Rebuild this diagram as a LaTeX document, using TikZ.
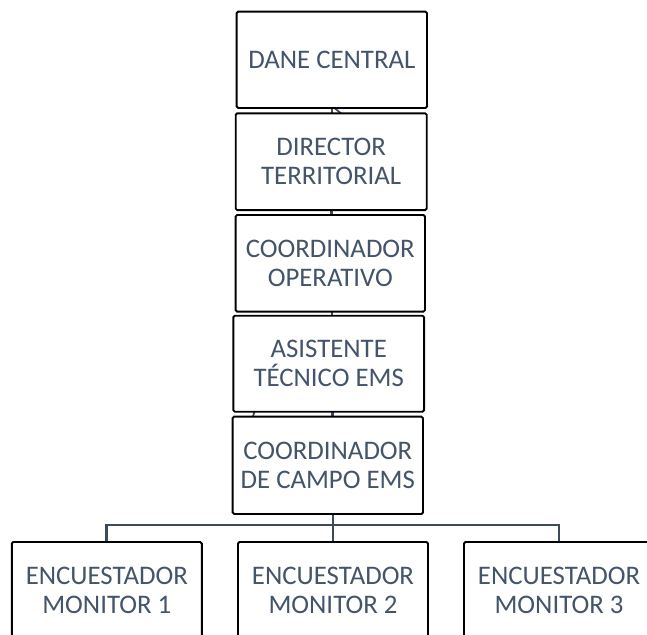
\documentclass[tikz,border=0pt]{standalone}
\usepackage{fontspec}
\setmainfont{Carlito}
\definecolor{txtc}{HTML}{44546A}
\definecolor{linec}{HTML}{3B4A5E}
\tikzset{
  box/.style={draw=black, line width=1.9pt, rounded corners=1.5pt, fill=white,
    minimum width=190pt, minimum height=96pt, inner sep=0pt,
    text=txtc, align=center, font=\fontsize{26.8pt}{29pt}\selectfont},
  conn/.style={draw=linec, line width=2.8pt}
}
\begin{document}
\begin{tikzpicture}[x=1pt,y=1pt]
\useasboundingbox (0,0) rectangle (647,-634);
\clip (0,0) rectangle (647,-634);
% connectors drawn first
\coordinate (s1) at (332,-106);
\coordinate (s2) at (332,-115);
\coordinate (s2b) at (343,-115);
\coordinate (s4) at (255,-410);
\coordinate (s5) at (252.5,-418);
\coordinate (m4) at (332.5,-410);
\coordinate (m5) at (332.5,-418);
\coordinate (m2) at (331.7,-208);
\coordinate (m3) at (331.7,-217);
\coordinate (m3b) at (332,-310);
\coordinate (m4b) at (332,-317);
\draw[conn, line width=1.8pt] (s1) -- (s2);
\draw[conn, line width=1.8pt] (s1) -- (s2b);
\draw[conn] (m2) -- (m3);
\draw[conn] (m3b) -- (m4b);
\draw[conn] (m4) -- (m5);
\draw[conn, line width=1.8pt] (s4) -- (s5);
% boxes
\node[box, minimum width=190.3pt, minimum height=96.3pt] (n1) at (331.8,-59.8) {DANE CENTRAL};
\node[box, minimum width=191pt, minimum height=96.7pt] (n2) at (331.2,-161.7) {DIRECTOR\\TERRITORIAL};
\node[box, minimum width=189.3pt, minimum height=96.7pt] (n3) at (330.3,-263.3) {COORDINADOR\\OPERATIVO};
\node[box, minimum width=190.7pt, minimum height=96pt] (n4) at (328.7,-363.7) {ASISTENTE\\TÉCNICO EMS};
\node[box, minimum width=190.3pt, minimum height=97.3pt] (n5) at (327.8,-465.3) {COORDINADOR\\DE CAMPO EMS};
\node[box] (nA) at (106.8,-590) {ENCUESTADOR\\MONITOR 1};
\node[box] (nB) at (333,-590) {ENCUESTADOR\\MONITOR 2};
\node[box] (nC) at (559,-590) {ENCUESTADOR\\MONITOR 3};
% bottom tree
\draw[conn] (nA.north) -- ++(0,16) -| (nC.north);
\draw[conn] (n5.south -| nB.north) -- (nB.north);
\end{tikzpicture}
\end{document}
